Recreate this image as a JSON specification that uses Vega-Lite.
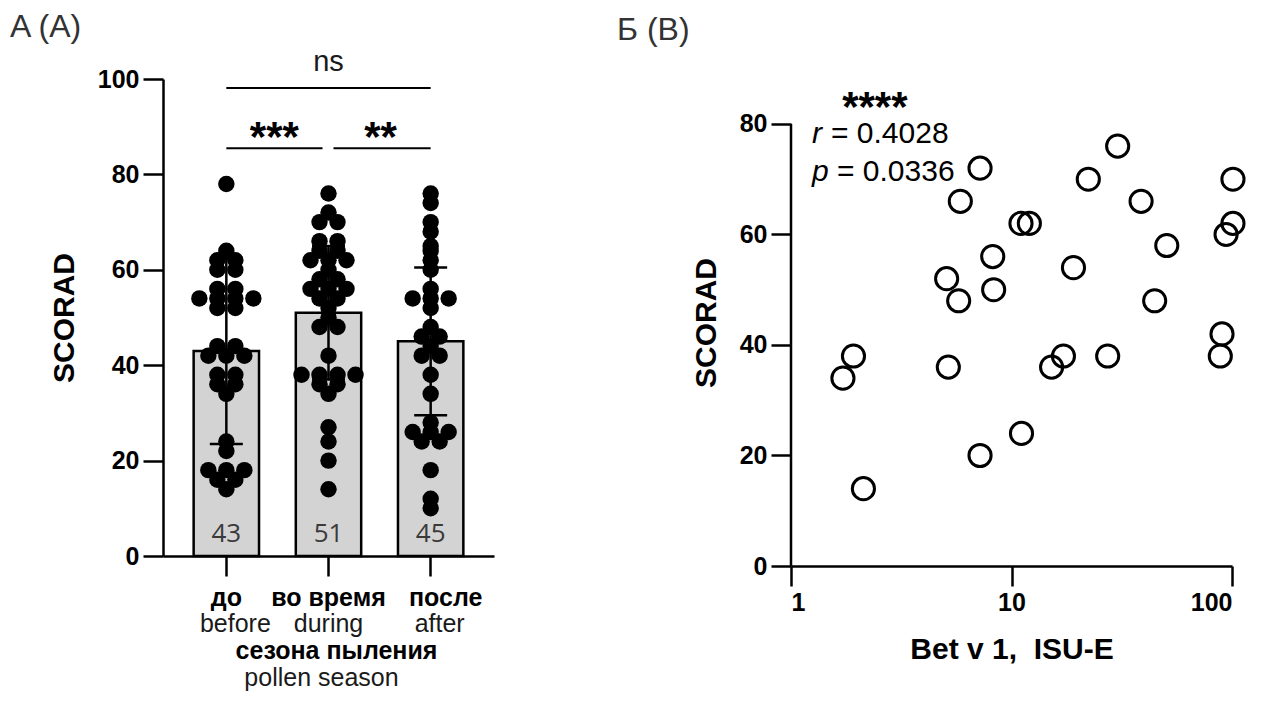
{
  "$schema": "https://vega.github.io/schema/vega-lite/v6.json",
  "background": "white",
  "padding": {"left": 10, "top": 10, "right": 5, "bottom": 5},
  "spacing": 123,
  "config": {
    "view": {"stroke": null},
    "font": "Liberation Sans",
    "axis": {"domainColor": "black", "domainWidth": 2.5, "tickColor": "black", "tickWidth": 2.5, "tickSize": 20, "labelFont": "Liberation Sans", "labelFontSize": 25, "labelFontWeight": "bold", "labelColor": "black", "titleFont": "Liberation Sans", "titleFontSize": 30, "titleFontWeight": "bold", "titleColor": "black", "grid": false, "labelPadding": 4},
    "title": {"font": "Liberation Sans", "fontSize": 32, "fontWeight": "normal", "color": "#333333", "anchor": "start", "frame": "group"}
  },
  "datasets": {
    "summary": [
      {"g": "до", "mean": 43, "lo": 23.5, "hi": 62.5, "en": "before"},
      {"g": "во время", "mean": 51, "lo": 37, "hi": 65, "en": "during"},
      {"g": "после", "mean": 45, "lo": 29.5, "hi": 60.5, "en": "after"}
    ],
    "swarm": [
      {"g": "до", "v": 78}, {"g": "до", "v": 64}, {"g": "до", "v": 62}, {"g": "до", "v": 62}, {"g": "до", "v": 60}, {"g": "до", "v": 60}, {"g": "до", "v": 56}, {"g": "до", "v": 56}, {"g": "до", "v": 54}, {"g": "до", "v": 54}, {"g": "до", "v": 54}, {"g": "до", "v": 54}, {"g": "до", "v": 52}, {"g": "до", "v": 52}, {"g": "до", "v": 44}, {"g": "до", "v": 44}, {"g": "до", "v": 42}, {"g": "до", "v": 42}, {"g": "до", "v": 42}, {"g": "до", "v": 38}, {"g": "до", "v": 38}, {"g": "до", "v": 36}, {"g": "до", "v": 36}, {"g": "до", "v": 34}, {"g": "до", "v": 24}, {"g": "до", "v": 22}, {"g": "до", "v": 18}, {"g": "до", "v": 18}, {"g": "до", "v": 18}, {"g": "до", "v": 16}, {"g": "до", "v": 16}, {"g": "до", "v": 14},
      {"g": "во время", "v": 76}, {"g": "во время", "v": 72}, {"g": "во время", "v": 70}, {"g": "во время", "v": 70}, {"g": "во время", "v": 66}, {"g": "во время", "v": 66}, {"g": "во время", "v": 64}, {"g": "во время", "v": 64}, {"g": "во время", "v": 62}, {"g": "во время", "v": 62}, {"g": "во время", "v": 62}, {"g": "во время", "v": 60}, {"g": "во время", "v": 58}, {"g": "во время", "v": 58}, {"g": "во время", "v": 56}, {"g": "во время", "v": 56}, {"g": "во время", "v": 56}, {"g": "во время", "v": 54}, {"g": "во время", "v": 54}, {"g": "во время", "v": 52}, {"g": "во время", "v": 50}, {"g": "во время", "v": 48}, {"g": "во время", "v": 48}, {"g": "во время", "v": 42}, {"g": "во время", "v": 38}, {"g": "во время", "v": 38}, {"g": "во время", "v": 38}, {"g": "во время", "v": 38}, {"g": "во время", "v": 36}, {"g": "во время", "v": 36}, {"g": "во время", "v": 34}, {"g": "во время", "v": 27}, {"g": "во время", "v": 24}, {"g": "во время", "v": 20}, {"g": "во время", "v": 14},
      {"g": "после", "v": 76}, {"g": "после", "v": 74}, {"g": "после", "v": 70}, {"g": "после", "v": 68}, {"g": "после", "v": 65}, {"g": "после", "v": 64}, {"g": "после", "v": 62}, {"g": "после", "v": 60}, {"g": "после", "v": 56}, {"g": "после", "v": 54}, {"g": "после", "v": 54}, {"g": "после", "v": 54}, {"g": "после", "v": 52}, {"g": "после", "v": 48}, {"g": "после", "v": 46}, {"g": "после", "v": 46}, {"g": "после", "v": 44}, {"g": "после", "v": 42}, {"g": "после", "v": 42}, {"g": "после", "v": 38}, {"g": "после", "v": 34}, {"g": "после", "v": 28}, {"g": "после", "v": 26}, {"g": "после", "v": 26}, {"g": "после", "v": 26}, {"g": "после", "v": 24}, {"g": "после", "v": 24}, {"g": "после", "v": 18}, {"g": "после", "v": 12}, {"g": "после", "v": 10}
    ],
    "scatter": [
      {"bet": 1.72, "scorad": 34}, {"bet": 1.92, "scorad": 38}, {"bet": 2.13, "scorad": 14}, {"bet": 5.08, "scorad": 52}, {"bet": 5.17, "scorad": 36}, {"bet": 5.76, "scorad": 48}, {"bet": 5.86, "scorad": 66}, {"bet": 7.2, "scorad": 72}, {"bet": 7.2, "scorad": 20}, {"bet": 8.22, "scorad": 56}, {"bet": 8.3, "scorad": 50}, {"bet": 11.04, "scorad": 62}, {"bet": 12.05, "scorad": 62}, {"bet": 11.1, "scorad": 24}, {"bet": 15.2, "scorad": 36}, {"bet": 17.2, "scorad": 38}, {"bet": 19.1, "scorad": 54}, {"bet": 22.3, "scorad": 70}, {"bet": 27.3, "scorad": 38}, {"bet": 30.3, "scorad": 76}, {"bet": 38.7, "scorad": 66}, {"bet": 44.6, "scorad": 48}, {"bet": 50.6, "scorad": 58}, {"bet": 88.5, "scorad": 38}, {"bet": 90.1, "scorad": 42}, {"bet": 94, "scorad": 60}, {"bet": 101, "scorad": 62}, {"bet": 101, "scorad": 70}
    ]
  },
  "hconcat": [
    {
      "width": 331,
      "height": 477,
      "title": {"text": "A (A)", "dx": -153, "offset": 4},
      "resolve": {"scale": {"xOffset": "independent"}},
      "encoding": {
        "x": {"field": "g", "type": "nominal", "sort": ["до", "во время", "после"], "scale": {"paddingInner": 0.36, "paddingOuter": 0.3}, "axis": {"labels": false, "title": null}}
      },
      "layer": [
        {
          "data": {"name": "summary"},
          "mark": {"type": "bar", "fill": "#d3d3d3", "stroke": "black", "strokeWidth": 2.5},
          "encoding": {
            "y": {"field": "mean", "type": "quantitative", "scale": {"domain": [0, 100], "nice": false}, "axis": {"values": [0, 20, 40, 60, 80, 100], "title": "SCORAD", "titlePadding": 18}}
          }
        },
        {
          "data": {"name": "summary"},
          "mark": {"type": "rule", "stroke": "black", "strokeWidth": 2.5},
          "encoding": {"y": {"field": "lo", "type": "quantitative"}, "y2": {"field": "hi"}}
        },
        {
          "data": {"name": "summary"},
          "mark": {"type": "tick", "color": "black", "size": 33, "thickness": 2.5, "orient": "horizontal", "opacity": 1},
          "encoding": {"y": {"field": "lo", "type": "quantitative"}}
        },
        {
          "data": {"name": "summary"},
          "mark": {"type": "tick", "color": "black", "size": 33, "thickness": 2.5, "orient": "horizontal", "opacity": 1},
          "encoding": {"y": {"field": "hi", "type": "quantitative"}}
        },
        {
          "data": {"name": "swarm"},
          "transform": [
            {"window": [{"op": "row_number", "as": "rk"}], "groupby": ["g", "v"]},
            {"joinaggregate": [{"op": "count", "as": "cnt"}], "groupby": ["g", "v"]},
            {"calculate": "datum.rk - (datum.cnt + 1) / 2", "as": "off"}
          ],
          "mark": {"type": "point", "shape": "circle", "filled": true, "color": "black", "opacity": 1, "size": 270},
          "encoding": {
            "xOffset": {"field": "off", "type": "quantitative", "scale": {"domain": [-4, 4], "range": [-39.3, 104.7]}},
            "y": {"field": "v", "type": "quantitative"}
          }
        },
        {
          "data": {"name": "summary"},
          "mark": {"type": "text", "font": "Open Sans", "fontSize": 26, "color": "#3a3a3a", "baseline": "alphabetic"},
          "encoding": {"y": {"datum": 2.9}, "text": {"field": "mean", "type": "quantitative"}}
        },
        {
          "data": {"name": "summary"},
          "transform": [{"filter": "datum.g != 'после'"}],
          "mark": {"type": "text", "fontSize": 25, "fontWeight": "bold", "color": "black", "baseline": "alphabetic"},
          "encoding": {"y": {"datum": -10.5}, "text": {"field": "g", "type": "nominal"}}
        },
        {
          "data": {"name": "summary"},
          "transform": [{"filter": "datum.g == 'после'"}],
          "mark": {"type": "text", "fontSize": 25, "fontWeight": "bold", "color": "black", "baseline": "alphabetic", "dx": 15},
          "encoding": {"y": {"datum": -10.5}, "text": {"field": "g", "type": "nominal"}}
        },
        {
          "data": {"name": "summary"},
          "transform": [{"filter": "datum.g == 'во время'"}],
          "mark": {"type": "text", "fontSize": 25, "fontWeight": "normal", "color": "#1a1a1a", "baseline": "alphabetic"},
          "encoding": {"y": {"datum": -15.9}, "text": {"field": "en", "type": "nominal"}}
        },
        {
          "data": {"name": "summary"},
          "transform": [{"filter": "datum.g != 'во время'"}],
          "mark": {"type": "text", "fontSize": 25, "fontWeight": "normal", "color": "#1a1a1a", "baseline": "alphabetic", "dx": 9},
          "encoding": {"y": {"datum": -15.9}, "text": {"field": "en", "type": "nominal"}}
        },
        {
          "data": {"values": [{"t": "сезона пыления"}]},
          "mark": {"type": "text", "fontSize": 25, "fontWeight": "bold", "color": "black", "baseline": "alphabetic", "dx": 8},
          "encoding": {"x": {"datum": "во время"}, "y": {"datum": -21.6}, "text": {"field": "t", "type": "nominal"}}
        },
        {
          "data": {"values": [{"t": "pollen season"}]},
          "mark": {"type": "text", "fontSize": 25, "fontWeight": "normal", "color": "#1a1a1a", "baseline": "alphabetic", "dx": -7},
          "encoding": {"x": {"datum": "во время"}, "y": {"datum": -27.3}, "text": {"field": "t", "type": "nominal"}}
        },
        {
          "data": {"values": [{}]},
          "mark": {"type": "rule", "stroke": "black", "strokeWidth": 2},
          "encoding": {"x": {"datum": "до"}, "x2": {"datum": "после"}, "y": {"datum": 98.1}}
        },
        {
          "data": {"values": [{}]},
          "mark": {"type": "rule", "stroke": "black", "strokeWidth": 2, "x2Offset": -6},
          "encoding": {"x": {"datum": "до"}, "x2": {"datum": "во время"}, "y": {"datum": 85.5}}
        },
        {
          "data": {"values": [{}]},
          "mark": {"type": "rule", "stroke": "black", "strokeWidth": 2, "xOffset": 5},
          "encoding": {"x": {"datum": "во время"}, "x2": {"datum": "после"}, "y": {"datum": 85.5}}
        },
        {
          "data": {"values": [{"t": "ns"}]},
          "mark": {"type": "text", "fontSize": 29, "color": "#1a1a1a", "baseline": "alphabetic"},
          "encoding": {"x": {"datum": "во время"}, "y": {"datum": 101.7}, "text": {"field": "t", "type": "nominal"}}
        },
        {
          "data": {"values": [{"t": "***"}]},
          "mark": {"type": "text", "fontSize": 42, "fontWeight": "bold", "color": "black", "baseline": "alphabetic", "dx": 48},
          "encoding": {"x": {"datum": "до"}, "y": {"datum": 84.9}, "text": {"field": "t", "type": "nominal"}}
        },
        {
          "data": {"values": [{"t": "**"}]},
          "mark": {"type": "text", "fontSize": 42, "fontWeight": "bold", "color": "black", "baseline": "alphabetic", "dx": 52},
          "encoding": {"x": {"datum": "во время"}, "y": {"datum": 84.9}, "text": {"field": "t", "type": "nominal"}}
        }
      ]
    },
    {
      "width": 441,
      "height": 487,
      "title": {"text": "Б (B)", "dx": -174, "offset": 32},
      "layer": [
        {
          "data": {"values": [{}]},
          "mark": {"type": "rule", "stroke": "black", "strokeWidth": 2.5},
          "encoding": {"x": {"datum": 1}, "y": {"datum": 0}, "y2": {"datum": 80}}
        },
        {
          "data": {"name": "scatter"},
          "mark": {"type": "point", "shape": "circle", "filled": false, "stroke": "black", "strokeWidth": 3, "size": 490, "opacity": 1},
          "encoding": {
            "x": {"field": "bet", "type": "quantitative", "scale": {"type": "log", "domain": [1, 100], "nice": false}, "axis": {"values": [1, 10, 100], "format": "d", "title": "Bet v 1,\u00a0 ISU-E", "titlePadding": 19}},
            "y": {"field": "scorad", "type": "quantitative", "scale": {"domain": [0, 88.14], "nice": false}, "axis": {"values": [0, 20, 40, 60, 80], "title": "SCORAD", "titlePadding": 18, "domain": false}}
          }
        },
        {
          "data": {"values": [{"t": "****"}]},
          "mark": {"type": "text", "fontSize": 42, "fontWeight": "bold", "color": "black", "baseline": "alphabetic", "align": "center"},
          "encoding": {"x": {"datum": 2.4}, "y": {"datum": 80.5}, "text": {"field": "t", "type": "nominal"}}
        },
        {
          "data": {"values": [{"t": "r"}]},
          "mark": {"type": "text", "fontSize": 30, "fontStyle": "italic", "color": "black", "baseline": "alphabetic", "align": "left"},
          "encoding": {"x": {"datum": 1.245}, "y": {"datum": 76.5}, "text": {"field": "t", "type": "nominal"}}
        },
        {
          "data": {"values": [{"t": "= 0.4028"}]},
          "mark": {"type": "text", "fontSize": 30, "color": "black", "baseline": "alphabetic", "align": "left", "dx": 19},
          "encoding": {"x": {"datum": 1.245}, "y": {"datum": 76.5}, "text": {"field": "t", "type": "nominal"}}
        },
        {
          "data": {"values": [{"t": "p"}]},
          "mark": {"type": "text", "fontSize": 30, "fontStyle": "italic", "color": "black", "baseline": "alphabetic", "align": "left"},
          "encoding": {"x": {"datum": 1.245}, "y": {"datum": 69.7}, "text": {"field": "t", "type": "nominal"}}
        },
        {
          "data": {"values": [{"t": "= 0.0336"}]},
          "mark": {"type": "text", "fontSize": 30, "color": "black", "baseline": "alphabetic", "align": "left", "dx": 25},
          "encoding": {"x": {"datum": 1.245}, "y": {"datum": 69.7}, "text": {"field": "t", "type": "nominal"}}
        }
      ]
    }
  ]
}
